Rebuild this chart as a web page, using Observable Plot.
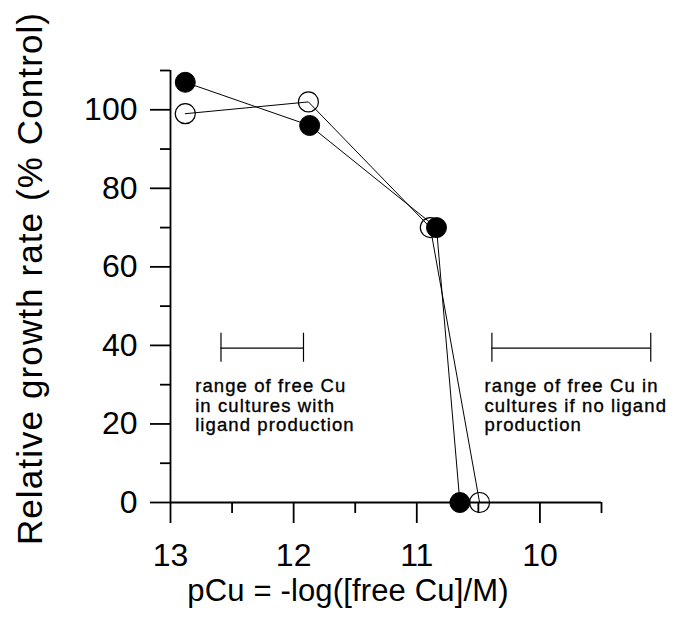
<!DOCTYPE html>
<html>
<head>
<meta charset="utf-8">
<script src="https://cdn.jsdelivr.net/npm/d3@7"></script>
<script src="https://cdn.jsdelivr.net/npm/@observablehq/plot@0.6"></script>
<style>
  html, body { margin: 0; padding: 0; background: #fff; }
</style>
</head>
<body>
<div id="chart"></div>
<script>
// Data
const pCuFilled = [12.88, 11.87, 10.84, 10.65];
const growthFilled = [107, 96, 70, 0];
const pCuOpen = [12.88, 11.88, 10.89, 10.49];
const growthOpen = [99, 102, 70, 0];

const rangeX1 = [12.59, 10.39];
const rangeX2 = [11.92, 9.10];
const rangeY = [39.3, 39.3];
const rangeCapLow = [35.7, 35.7];
const rangeCapHigh = [43.1, 43.1];
const rangeTextX = [12.80, 10.45];
const rangeTextY = [31.6, 31.6];
const rangeText = [
  "range of free Cu\nin cultures with\nligand production",
  "range of free Cu in\ncultures if no ligand\nproduction"
];

const xMajor = [13, 12, 11, 10];
const xMinor = [12.5, 11.5, 10.5, 9.5];
const yMajor = [0, 20, 40, 60, 80, 100];
const yMinor = [10, 30, 50, 70, 90, 110];
const xDomain = [13, 9.5];
const yDomain = [0, 110];

const xTitle = "pCu = -log([free Cu]/M)";
const yTitle = "Relative growth rate (% Control)";

const filled = pCuFilled.map((x, i) => ({x, y: growthFilled[i]}));
const open = pCuOpen.map((x, i) => ({x, y: growthOpen[i]}));
const ranges = rangeX1.map((x1, i) => ({
  x1, x2: rangeX2[i], y: rangeY[i], lo: rangeCapLow[i], hi: rangeCapHigh[i],
  tx: rangeTextX[i], ty: rangeTextY[i], label: rangeText[i]
}));
const caps = ranges.flatMap(r => [{x: r.x1, lo: r.lo, hi: r.hi}, {x: r.x2, lo: r.lo, hi: r.hi}]);

const FONT = "'Liberation Sans', Arial, Helvetica, sans-serif";

const chart = Plot.plot({
  width: 674,
  height: 618,
  marginLeft: 170,
  marginRight: 73,
  marginTop: 70,
  marginBottom: 116,
  style: {fontFamily: FONT, background: "#fff", color: "#000", overflow: "visible"},
  x: {domain: xDomain},
  y: {domain: yDomain},
  marks: [
    // axis lines
    Plot.ruleX([xDomain[0]], {y1: yDomain[0], y2: yDomain[1], stroke: "#000", strokeWidth: 1.8}),
    Plot.ruleY([yDomain[0]], {x1: xDomain[0], x2: xDomain[1], stroke: "#000", strokeWidth: 1.8}),
    Plot.axisX({ticks: xMajor, tickSize: 21, tickPadding: 20, fontSize: 32, strokeWidth: 1.8, label: null, tickFormat: d => String(d)}),
    Plot.axisX({ticks: xMinor, tickSize: 11, strokeWidth: 1.8, label: null, tickFormat: () => ""}),
    Plot.axisY({ticks: yMajor, tickSize: 20, tickPadding: 13, fontSize: 32, strokeWidth: 1.8, label: null, tickFormat: d => String(d)}),
    Plot.axisY({ticks: yMinor, tickSize: 10, strokeWidth: 1.8, label: null, tickFormat: () => ""}),
    // axis titles
    Plot.text([xTitle], {text: d => d, frameAnchor: "bottom", textAnchor: "middle", dx: -38, dy: 98, fontSize: 31, fill: "#000", lineAnchor: "bottom"}),
    Plot.text([yTitle], {text: d => d, frameAnchor: "left", textAnchor: "middle", rotate: -90, dx: -153, dy: -8, fontSize: 35, fill: "#000", lineAnchor: "top"}),
    // range bars
    Plot.ruleY(ranges, {x1: "x1", x2: "x2", y: "y", stroke: "#000", strokeWidth: 1.2}),
    Plot.ruleX(caps, {x: "x", y1: "lo", y2: "hi", stroke: "#000", strokeWidth: 1.2}),
    Plot.text(ranges, {x: "tx", y: "ty", text: "label", textAnchor: "start", lineAnchor: "top", lineHeight: 1.05, fontSize: 18.5, fill: "#000", stroke: "#000", strokeWidth: 0.35}),
    // data lines
    Plot.line(open, {x: "x", y: "y", stroke: "#000", strokeWidth: 1}),
    Plot.line(filled, {x: "x", y: "y", stroke: "#000", strokeWidth: 1}),
    Plot.dot(open, {x: "x", y: "y", r: 10, fill: "none", stroke: "#000", strokeWidth: 1.2}),
    Plot.dot(filled, {x: "x", y: "y", r: 10, fill: "#000", stroke: "#000", strokeWidth: 1})
  ]
});

const allText = d3.select(chart).selectAll("text");
allText.filter(function() { return this.textContent.includes("range of free"); })
  .style("letter-spacing", "1.1px");
allText.filter(function() { return this.textContent === yTitle; })
  .style("letter-spacing", "1.1px");
allText.filter(function() { return this.textContent === xTitle; })
  .style("letter-spacing", "0.15px");

document.getElementById("chart").appendChild(chart);
</script>
</body>
</html>
